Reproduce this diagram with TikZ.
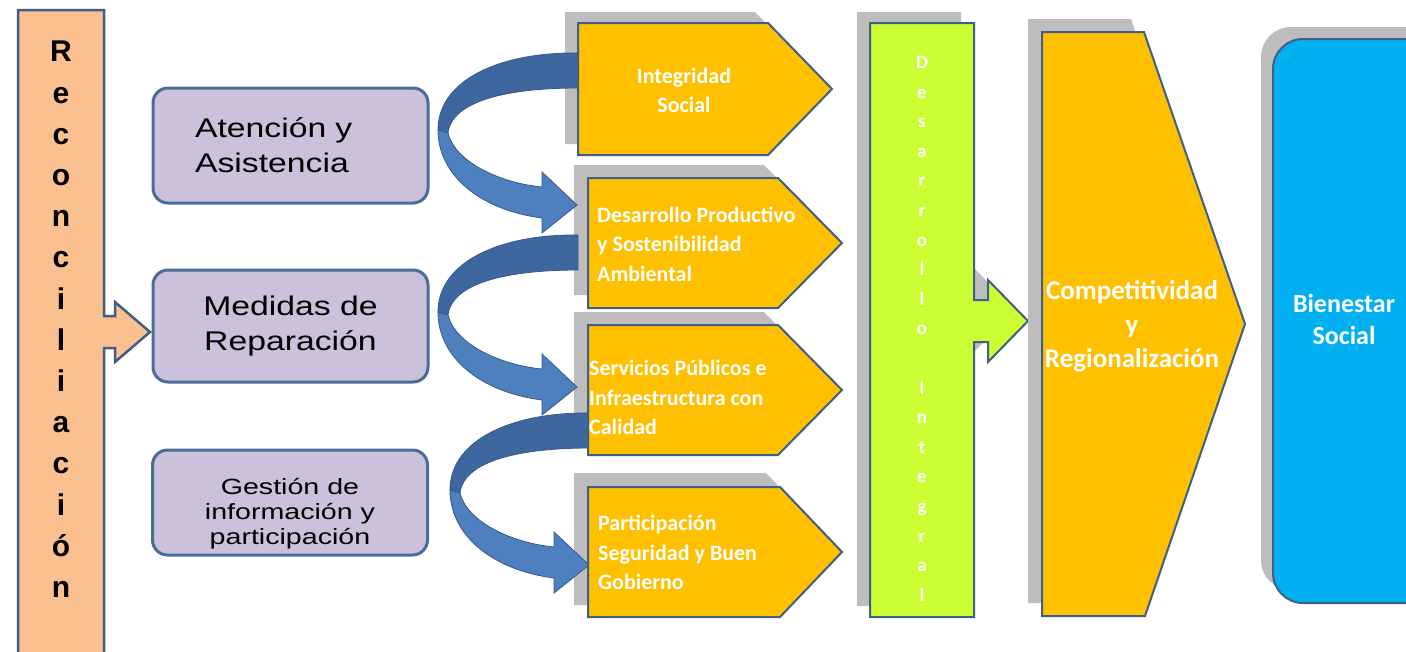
\documentclass[tikz,border=0pt]{standalone}
\usepackage{fontspec}
\setmainfont{Liberation Sans}
\newfontfamily\boxfont[FakeStretch=1.25]{Liberation Sans}
\newfontfamily\smallboxfont[FakeStretch=1.3]{Liberation Sans}
\newfontfamily\calfont{Carlito}
\definecolor{peach}{HTML}{FAC090}
\definecolor{edgeblue}{HTML}{3F5F86}
\definecolor{boxedge}{HTML}{4A6C98}
\definecolor{lavender}{HTML}{CCC1DA}
\definecolor{orangeY}{HTML}{FFC000}
\definecolor{limeG}{HTML}{CCFF33}
\definecolor{skyB}{HTML}{00B0F0}
\definecolor{shadowgrey}{HTML}{BDBDBD}
\definecolor{arrowlight}{HTML}{4E80BF}
\definecolor{arrowdark}{HTML}{3D679E}
\definecolor{arrowedge}{HTML}{36598A}
\begin{document}
\begin{tikzpicture}[x=1pt,y=-1pt,
  edge/.style={draw=edgeblue, line width=2pt, line join=miter},
  shadowfill/.style={fill=shadowgrey},
  lbox/.style={draw=boxedge, line width=3pt, fill=lavender, rounded corners=15pt,
     minimum width=275pt, text=black, font=\boxfont\fontsize{27}{35}\selectfont},
  pentext/.style={text=white, font=\calfont\bfseries\fontsize{22}{29.5}\selectfont,
     inner sep=0pt, align=left},
  curvarrow/.pic={
    \filldraw[fill=arrowdark, draw=arrowedge, line width=0.8pt]
      (578,53) .. controls (500,52) and (438,80) .. (438,130) -- (448,133)
      .. controls (452,100) and (510,88) .. (578,88) -- cycle;
    \filldraw[fill=arrowlight, draw=arrowedge, line width=0.8pt]
      (438,130) .. controls (438,175) and (480,210) .. (542,218) -- (542,233)
      -- (577,205) -- (542,172) -- (542,187)
      .. controls (500,183) and (455,162) .. (448,133) -- cycle;
  }]
\useasboundingbox (0,0) rectangle (1406,651);
\fill[white] (0,0) rectangle (1406,651);
\clip (0,0) rectangle (1406,651);

% Left bar with arrow
\path[edge, fill=peach, line width=2.5pt] (18,10) -- (104,10) -- (104,316) -- (115,316) -- (115,302)
  -- (150,332) -- (115,362) -- (115,348) -- (104,348) -- (104,660) -- (18,660) -- cycle;
\node[anchor=north, inner sep=0pt, align=center, font=\bfseries\fontsize{30}{41.2}\selectfont]
  (rtext) at (61,41) {R\\e\\c\\o\\n\\c\\i\\l\\i\\a\\c\\i\\ó\\n};

% Lavender boxes
\node[lbox, minimum height=115pt, text width=191pt, inner xsep=42pt, align=left] (b1) at (290.5,145.5) {Atención y\\Asistencia};
\node[lbox, minimum height=112pt, align=center] (b2) at (290.5,326) {Medidas de\\Reparación};
\node[lbox, minimum height=105pt, align=center, font=\smallboxfont\fontsize{22}{25}\selectfont] (b3) at (290,502.5) {\rule{0pt}{38pt}Gestión de\\información y\\participación};

% Pentagon shadows
\fill[shadowfill] (565,12) -- (755,12) -- (819,78) -- (755,144) -- (565,144) -- cycle;
\fill[shadowfill] (574,165) -- (764,165) -- (828,230) -- (764,295) -- (574,295) -- cycle;
\fill[shadowfill] (574,312) -- (764,312) -- (828,377) -- (764,442) -- (574,442) -- cycle;
\fill[shadowfill] (574,473) -- (766,473) -- (828,538) -- (766,605) -- (574,605) -- cycle;

% Curved arrows
\pic (ca1) at (0,0) {curvarrow};
\pic (ca2) at (0,182) {curvarrow};
\pic (ca3) at (12,360) {curvarrow};

% Pentagons
\path[edge, fill=orangeY] (578,23) -- (768,23) -- (832,89) -- (768,155) -- (578,155) -- cycle;
\path[edge, fill=orangeY] (588,178) -- (778,178) -- (842,243) -- (778,308) -- (588,308) -- cycle;
\path[edge, fill=orangeY] (588,325) -- (778,325) -- (842,390) -- (778,455) -- (588,455) -- cycle;
\path[edge, fill=orangeY] (588,487) -- (780,487) -- (842,552) -- (780,617) -- (588,617) -- cycle;

\node[pentext, align=center] (t1) at (684,90.5) {Integridad\\Social};
\node[pentext, anchor=west] (t2) at (597,244) {Desarrollo Productivo\\y Sostenibilidad\\Ambiental};
\node[pentext, anchor=west] (t3) at (589,397.5) {Servicios Públicos e\\Infraestructura con\\Calidad};
\node[pentext, anchor=west] (t4) at (598,552.5) {Participación\\Seguridad y Buen\\Gobierno};

% Green bar with arrow
\begin{scope}[shift={(-13,-11)}]
\fill[shadowfill] (870,23) -- (974,23) -- (974,300) -- (988,300) -- (988,280) -- (1028,321)
  -- (988,362) -- (988,342) -- (974,342) -- (974,617) -- (870,617) -- cycle;
\end{scope}
\path[edge, fill=limeG] (870,23) -- (974,23) -- (974,300) -- (988,300) -- (988,280) -- (1028,321)
  -- (988,362) -- (988,342) -- (974,342) -- (974,617) -- (870,617) -- cycle;
\node[anchor=north, inner sep=0pt, align=center, text=white, font=\calfont\bfseries\fontsize{19}{29.6}\selectfont]
  (dtext) at (922,56) {D\\e\\s\\a\\r\\r\\o\\l\\l\\o\\~\\I\\n\\t\\e\\g\\r\\a\\l};

% Competitividad chevron
\fill[shadowfill] (1028,19) -- (1131,19) -- (1232,311) -- (1132,603) -- (1028,603) -- cycle;
\path[edge, fill=orangeY] (1042,32) -- (1144,32) -- (1245,324) -- (1145,616) -- (1042,616) -- cycle;
\node[inner sep=0pt, align=center, text=white, font=\calfont\bfseries\fontsize{27}{34}\selectfont]
  (comp) at (1132,326) {Competitividad\\y\\Regionalización};

% Bienestar box
\fill[shadowfill, rounded corners=30pt] (1261,27) rectangle (1440,590);
\path[edge, fill=skyB, rounded corners=30pt] (1273,39) rectangle (1452,603);
\node[inner sep=0pt, align=center, text=white, font=\calfont\bfseries\fontsize{26}{32}\selectfont]
  (bien) at (1344,319) {Bienestar\\Social};
\end{tikzpicture}
\end{document}
